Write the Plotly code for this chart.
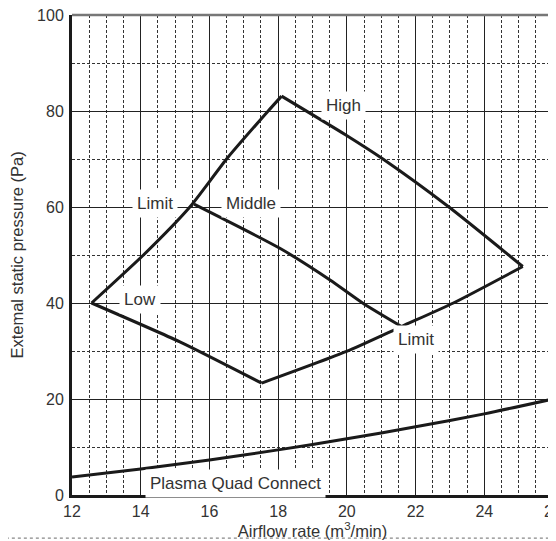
import plotly.graph_objects as go

## outer envelope, one side at a time
left_x = [12.57, 14.08, 15.43, 16.5, 17.71, 18.10]
left_y = [40, 50, 60, 70, 80, 83.1]
high_x = [18.10, 19.97, 21.05, 22.97, 25.12]
high_y = [83.1, 75, 70, 60, 47.6]
lowright_x = [25.12, 23.1, 21.59, 19.99, 17.52]
lowright_y = [47.6, 40, 35.1, 29.9, 23.3]
low_x = [17.52, 15.14, 12.57]
low_y = [23.3, 31.9, 40]

## middle fan speed line
mid_x = [15.55, 18.05, 19.51, 20.48, 21.59]
mid_y = [60.6, 51.4, 44.8, 39.9, 35.1]

## duct resistance curve
plasma_x = [12, 14, 16, 18, 20, 22, 24, 26]
plasma_y = [3.75, 5.4, 7.3, 9.4, 11.7, 14.2, 16.9, 20]

## labels: text, x, y
label_text = ["High", "Limit", "Middle", "Low", "Limit", "Plasma Quad Connect"]
label_x = [19.9, 14.42, 17.2, 13.98, 22.01, 16.77]
label_y = [80, 60, 60, 40, 32.5, 2.5]

ink = "#1a1a1a"
fam = "Liberation Sans, Arial, sans-serif"
tick_font = dict(family=fam, size=16, color="#333")
title_font = dict(family=fam, size=16.5, color="#333")
label_font = dict(family=fam, size=17, color="#333")

fig = go.Figure()
for xs, ys in [(left_x, left_y), (high_x, high_y), (lowright_x, lowright_y),
               (low_x, low_y), (mid_x, mid_y), (plasma_x, plasma_y)]:
  fig.add_trace(go.Scatter(x=xs, y=ys, mode="lines",
                           line=dict(color=ink, width=3, shape="spline",
                                     smoothing=0.6),
                           hoverinfo="skip"))

shifts = [6, 4, 4, 4, 0, 0]
for t, x, y, s in zip(label_text, label_x, label_y, shifts):
  fig.add_annotation(x=x, y=y, text=t, showarrow=False, yshift=s,
                     bgcolor="white", borderpad=4, font=label_font)

## top and right borders are lighter than the axes
fig.add_shape(type="line", xref="paper", yref="paper", x0=0, x1=1, y0=1, y1=1,
              line=dict(color="#777", width=2.5))
fig.add_shape(type="line", xref="paper", yref="paper", x0=1, x1=1, y0=0, y1=1,
              line=dict(color="#333", width=2))
## dotted separator under the chart
fig.add_shape(type="line", xref="paper", yref="paper",
              x0=-0.15, x1=1.01, y0=-0.090, y1=-0.090,
              line=dict(color="#888", width=1.2, dash="dot"))

fig.update_xaxes(range=[12, 26], dtick=2, tick0=12, ticks="",
                 showline=True, linecolor=ink, linewidth=3,
                 showgrid=True, gridcolor="#222", gridwidth=1.3,
                 minor=dict(dtick=0.5, tick0=12, showgrid=True,
                            gridcolor="#333", gridwidth=1, griddash="3px,2px"),
                 zeroline=False, tickfont=tick_font, automargin=False,
                 ticklabeloverflow="allow",
                 title=dict(text="Airflow rate (m<sup>3</sup>/min)",
                            font=title_font, standoff=0))
fig.update_yaxes(range=[0, 100], dtick=20, tick0=0, ticks="",
                 showline=True, linecolor=ink, linewidth=3,
                 showgrid=True, gridcolor="#222", gridwidth=1.3,
                 minor=dict(dtick=10, tick0=0, showgrid=True,
                            gridcolor="#333", gridwidth=1, griddash="3px,2px"),
                 zeroline=False, tickfont=tick_font, automargin=False,
                 ticklabelstandoff=2, ticklabeloverflow="allow",
                 title=dict(text="Extemal static pressure (Pa)",
                            font=title_font, standoff=10))
## the page body adds an 8px offset; the right edge runs past the window
## like the reference, so the last tick label is clipped by the window
fig.update_layout(width=556, height=533, showlegend=False,
                  plot_bgcolor="white", paper_bgcolor="white",
                  margin=dict(l=64, r=11, t=7, b=46))
fig.write_html("out.html")
